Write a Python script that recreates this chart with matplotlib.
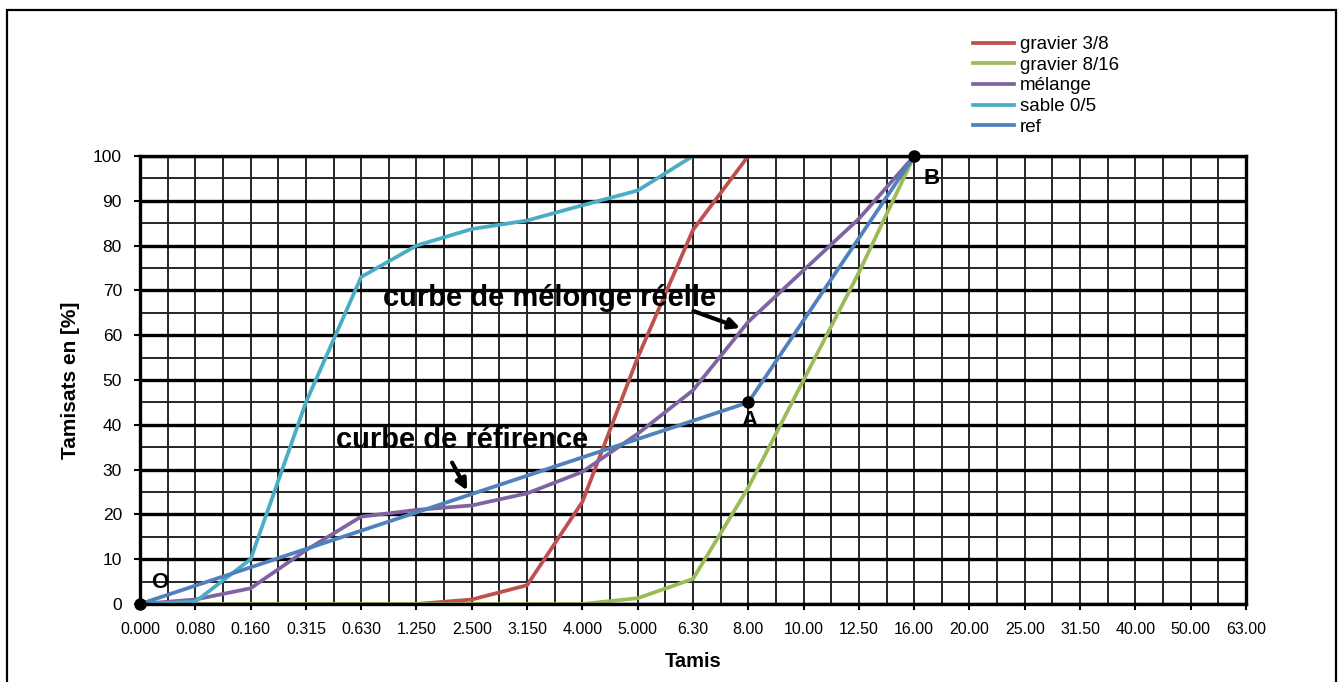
import numpy as np
import matplotlib
matplotlib.use('Agg')
import matplotlib.pyplot as plt
from matplotlib.patches import Rectangle

plt.rcParams['font.family'] = ['Liberation Sans', 'DejaVu Sans']

# Tamis (mm) et tamisats cumulés en %
tamis = ['0.000', '0.080', '0.160', '0.315', '0.630', '1.250', '2.500', '3.150',
         '4.000', '5.000', '6.30', '8.00', '10.00', '12.50', '16.00', '20.00',
         '25.00', '31.50', '40.00', '50.00', '63.00']

gravier_3_8 = [0, 0, 0, 0, 0, 0, 1, 4.2, 22.8, 55, 83.5, 100]
gravier_8_16 = [0, 0, 0, 0, 0, 0, 0, 0, 0, 1.3, 5.6, 26, 50, 74, 100]
melange = [0, 1, 3.5, 12, 19.5, 21, 22, 24.7, 29.5, 38, 47.7, 63, 74.5, 86, 100]
sable_0_5 = [0, 0.5, 10, 45, 73, 80, 83.7, 85.6, 89, 92.3, 100]

# courbe de référence : O, A, B
ref_tamis = ['0.000', '8.00', '16.00']
ref_val = [0, 45, 100]

series = [
    ('gravier 3/8', gravier_3_8, '#C0504D'),
    ('gravier 8/16', gravier_8_16, '#9BBB59'),
    ('mélange', melange, '#8064A2'),
    ('sable 0/5', sable_0_5, '#4BACC6'),
]

W, H = 1341, 682
fig = plt.figure(figsize=(W / 100, H / 100), dpi=100)
ax = fig.add_axes([140 / W, 1 - 604 / H, (1246 - 140) / W, (604 - 156) / H])

for nom, val, col in series:
    ax.plot(np.arange(len(val)), val, color=col, lw=2.7, label=nom, solid_joinstyle='round')

ref_x = [tamis.index(t) for t in ref_tamis]
ax.plot(ref_x, ref_val, color='#4F81BD', lw=2.7, label='ref')
ax.plot(ref_x, ref_val, 'o', color='black', ms=8, clip_on=False, zorder=5)

# lettres des points
ax.text(0.36, 4.7, 'O', fontsize=16, fontweight='bold', ha='center', va='center')
ax.text(11.03, 41.0, 'A', fontsize=16, fontweight='bold', ha='center', va='center')
ax.text(14.31, 95.0, 'B', fontsize=16, fontweight='bold', ha='center', va='center')

# annotations
ax.text(4.40, 68.3, 'curbe de mélonge réelle', fontsize=21, fontweight='bold',
        ha='left', va='center', zorder=6)
ax.annotate('', xy=(10.9, 61.4), xytext=(9.96, 65.6),
            arrowprops=dict(arrowstyle='-|>', lw=3, color='black', mutation_scale=16))
ax.text(3.55, 36.6, 'curbe de réfirence', fontsize=21, fontweight='bold',
        ha='left', va='center', zorder=6)
ax.annotate('', xy=(5.94, 24.8), xytext=(5.62, 32.1),
            arrowprops=dict(arrowstyle='-|>', lw=3, color='black', mutation_scale=16))

# axes et quadrillage
ax.set_xlim(0, len(tamis) - 1)
ax.set_ylim(0, 100)
ax.set_xticks(np.arange(len(tamis)))
ax.set_xticklabels(tamis, fontsize=11.5)
ax.set_xticks(np.arange(0, len(tamis) - 0.9, 0.5), minor=True)
ax.set_yticks(np.arange(0, 101, 10))
ax.set_yticks(np.arange(5, 100, 10), minor=True)
ax.tick_params(axis='y', labelsize=12.5, length=4, width=1.5, pad=9)
ax.tick_params(axis='x', length=4, width=1.5, pad=9)
ax.tick_params(which='minor', length=0)

ax.grid(axis='x', which='both', color='#262626', lw=1.4)
ax.grid(axis='y', which='major', color='black', lw=2.4)
ax.grid(axis='y', which='minor', color='#262626', lw=1.4)
ax.set_axisbelow(True)
for s in ax.spines.values():
    s.set_linewidth(2.4)

ax.set_xlabel('Tamis', fontsize=14.5, fontweight='bold', labelpad=11)
ax.set_ylabel('Tamisats en [%]', fontsize=15, fontweight='bold', labelpad=9)

ax.legend(loc='upper left', bbox_to_anchor=(973 / W, 1 - 36 / H),
          bbox_transform=fig.transFigure, frameon=False, fontsize=13.5,
          handlelength=2.2, handletextpad=0.3, labelspacing=0.19,
          borderpad=0, borderaxespad=0)

# cadre extérieur
fig.patches.append(Rectangle((6.5 / W, -0.05), (1336 - 6.5) / W, 1.05 - 10 / H,
                             transform=fig.transFigure, fill=False,
                             edgecolor='black', lw=1.6))

fig.savefig('out.png', dpi=100)
